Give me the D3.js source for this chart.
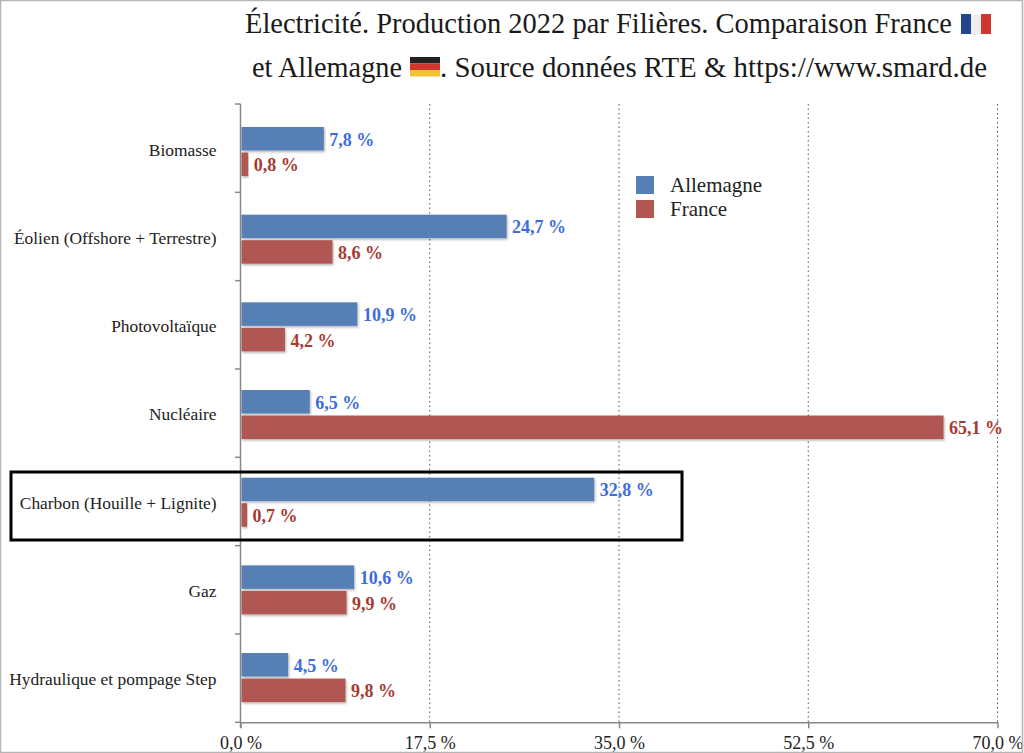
<!DOCTYPE html>
<html lang="fr">
<head>
    <meta charset="UTF-8">
    <title>Électricité. Production 2022 par Filières</title>
    <script src="https://d3js.org/d3.v7.min.js" charset="utf-8"></script>
    <style>
        html, body { margin: 0; padding: 0; background: white; }
        svg { display: block; font-family: "Liberation Serif", serif; }
    </style>
</head>
<body>
    <script>
        var categories = ["Biomasse", "Éolien (Offshore + Terrestre)", "Photovoltaïque", "Nucléaire",
            "Charbon (Houille + Lignite)", "Gaz", "Hydraulique et pompage Step"];
        var series = ["Allemagne", "France"];
        var allemagne = [7.8, 24.7, 10.9, 6.5, 32.8, 10.6, 4.5];
        var france = [0.8, 8.6, 4.2, 65.1, 0.7, 9.9, 9.8];
        var xTicks = [0, 17.5, 35, 52.5, 70];

        var width = 1024;
        var height = 753;

        var barColor = { Allemagne: "#567fb6", France: "#b05752" };
        var labelColor = { Allemagne: "#3d6ddb", France: "#a63a32" };

        var fr = d3.format(".1f");
        var pct = function (v) { return fr(v).replace(".", ",") + " %"; };

        var x = d3.scaleLinear().domain([0, 70]).range([240.5, 997.5]);
        // axis ticks and bar rows do not sit on quite the same step in the original
        var yAxis = d3.scaleBand().domain(categories).range([104, 722.3]);
        var yRow = d3.scaleBand().domain(categories).range([108, 721.7]);
        var ySeries = d3.scaleBand().domain(series).range([19, 68]).paddingInner(0.08);

        var svg = d3.select("body").append("svg")
            .attr("width", width)
            .attr("height", height);

        var shadow = svg.append("defs").append("filter")
            .attr("id", "shadow")
            .attr("x", "-5%").attr("y", "-20%")
            .attr("width", "110%").attr("height", "150%");
        shadow.append("feDropShadow")
            .attr("dx", 1).attr("dy", 1.5)
            .attr("stdDeviation", 1)
            .attr("flood-color", "#000")
            .attr("flood-opacity", 0.3);

        // title, with the two flags drawn as stripes
        var title = svg.append("g").attr("font-size", 29).attr("fill", "#1a1a1a");
        title.append("text").attr("x", 245).attr("y", 33)
            .attr("textLength", 707).attr("lengthAdjust", "spacingAndGlyphs")
            .text("Électricité. Production 2022 par Filières. Comparaison France");
        title.append("text").attr("x", 252).attr("y", 77)
            .attr("textLength", 150).attr("lengthAdjust", "spacingAndGlyphs")
            .text("et Allemagne");
        title.append("text").attr("x", 440).attr("y", 77)
            .attr("textLength", 547).attr("lengthAdjust", "spacingAndGlyphs")
            .text(". Source données RTE & https://www.smard.de");

        var flagFr = svg.append("g").attr("transform", "translate(961,14)");
        ["#25468f", "#eeeeee", "#d0372f"].forEach(function (c, i) {
            flagFr.append("rect").attr("x", i * 10).attr("y", i == 1 ? 1 : 0)
                .attr("width", 10).attr("height", 20).attr("fill", c);
        });
        var flagDe = svg.append("g").attr("transform", "translate(410,57)");
        ["#222222", "#d0362c", "#f2c230"].forEach(function (c, i) {
            flagDe.append("rect").attr("x", 0).attr("y", i * 6.5)
                .attr("width", 30).attr("height", 6.5).attr("fill", c);
        });

        // gridlines
        svg.append("g").selectAll("line")
            .data(xTicks.slice(1))
            .enter()
            .append("line")
            .attr("x1", function (d) { return x(d); })
            .attr("x2", function (d) { return x(d); })
            .attr("y1", 104)
            .attr("y2", 722.3)
            .attr("stroke", "#555")
            .attr("stroke-dasharray", "1.5,3");

        // axes
        var bottomAxis = svg.append("g")
            .attr("transform", "translate(0,722.3)")
            .call(d3.axisBottom(x).tickValues(xTicks).tickFormat(pct).tickSizeInner(6).tickSizeOuter(0).tickPadding(8));
        bottomAxis.attr("font-family", null).attr("font-size", 18);
        bottomAxis.selectAll("text").attr("fill", "#222");
        bottomAxis.selectAll("path, line").attr("stroke", "#888").attr("stroke-width", 1.5);

        var tickGroup = svg.append("g");
        var bandEdges = [104].concat(categories.map(function (c) { return yAxis(c) + yAxis.bandwidth(); }));
        tickGroup.selectAll("line")
            .data(bandEdges)
            .enter()
            .append("line")
            .attr("x1", 235)
            .attr("x2", 240.5)
            .attr("y1", function (d) { return d; })
            .attr("y2", function (d) { return d; })
            .attr("stroke", "#888")
            .attr("stroke-width", 1.5);
        tickGroup.append("line")
            .attr("x1", 240.5).attr("x2", 240.5)
            .attr("y1", 104).attr("y2", 728)
            .attr("stroke", "#888")
            .attr("stroke-width", 1.5);

        // category labels
        svg.append("g").selectAll("text")
            .data(categories)
            .enter()
            .append("text")
            .attr("x", 216.5)
            .attr("y", function (d) { return yAxis(d) + 51.5; })
            .attr("text-anchor", "end")
            .attr("font-size", 17.4)
            .attr("fill", "#222")
            .text(function (d) { return d; });

        // bars and value labels, one group per series
        var values = { Allemagne: allemagne, France: france };
        series.forEach(function (s) {
            var g = svg.append("g");
            var rows = categories.map(function (c, i) { return { cat: c, val: values[s][i] }; });

            g.selectAll("rect")
                .data(rows)
                .enter()
                .append("rect")
                .attr("x", x(0) + 1)
                .attr("y", function (d) { return yRow(d.cat) + ySeries(s); })
                .attr("width", function (d) { return x(d.val) - x(0) - 2; })
                .attr("height", ySeries.bandwidth())
                .attr("fill", barColor[s])
                .attr("filter", "url(#shadow)");

            g.selectAll("text")
                .data(rows)
                .enter()
                .append("text")
                .attr("x", function (d) { return x(d.val) + 4.5; })
                .attr("y", function (d) { return yRow(d.cat) + ySeries(s) + ySeries.bandwidth() / 2 + 7; })
                .attr("font-size", 18)
                .attr("font-weight", "bold")
                .attr("fill", labelColor[s])
                .text(function (d) { return pct(d.val); });
        });

        // legend
        var legend = svg.append("g").selectAll("g")
            .data(series)
            .enter()
            .append("g")
            .attr("transform", function (d, i) { return "translate(636," + (176 + i * 24) + ")"; });
        legend.append("rect")
            .attr("width", 18).attr("height", 18)
            .attr("fill", function (d) { return barColor[d]; });
        legend.append("text")
            .attr("x", 34).attr("y", 16)
            .attr("font-size", 21)
            .attr("fill", "#222")
            .text(function (d) { return d; });

        // highlight box around coal
        svg.append("rect")
            .attr("x", 11).attr("y", 472)
            .attr("width", 671).attr("height", 68)
            .attr("fill", "none")
            .attr("stroke", "#000")
            .attr("stroke-width", 3);

        // outer frame of the screenshot
        svg.append("rect")
            .attr("x", 0.5).attr("y", 0.5)
            .attr("width", 1022).attr("height", 752)
            .attr("fill", "none")
            .attr("stroke", "#b5b5b5")
            .attr("stroke-width", 1.5);
    </script>
</body>
</html>
